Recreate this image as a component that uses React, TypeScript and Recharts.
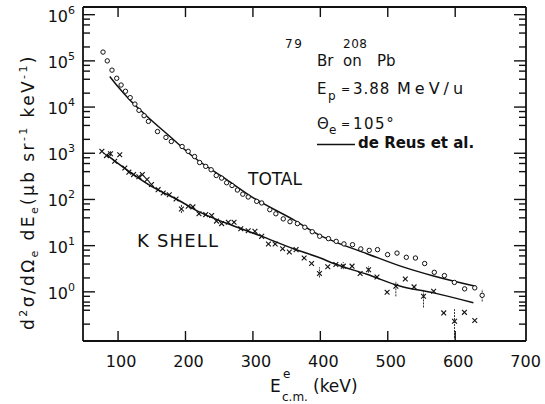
import React from "react";
import { ComposedChart, Scatter, Line, XAxis, YAxis, ErrorBar, ReferenceLine } from "recharts";

// measured TOTAL cross sections (open circles)
const totalEnergy = [
  77.7, 84, 91, 98, 104.5, 111, 118, 125, 131, 138.6, 145, 158.5, 171, 179, 195, 204,
  213.5, 221, 230, 238, 245.6, 253.6, 261, 269, 277, 285, 293, 305.6, 313, 325, 334, 345,
  355, 366, 377, 388, 399, 412, 423.5, 435, 447.7, 460, 472.5, 484.8, 499.7, 513.7, 527.5,
  541, 554.7, 569, 584, 598.8, 614, 629, 640,
];
const totalValue = [
  1.55e5, 1.0e5, 6.3e4, 4.2e4, 3.0e4, 2.2e4, 1.6e4, 1.16e4, 8.5e3, 6.5e3, 4.9e3, 2.95e3,
  2.2e3, 1.8e3, 1.4e3, 1.1e3, 850, 630, 520, 440, 330, 290, 230, 200, 160, 130, 113, 91, 84,
  60, 49, 38, 33, 30, 25, 20, 16, 14.2, 12.4, 10.9, 10.5, 8.5, 7.9, 8.2, 6.4, 6.9, 5.6, 5.4,
  4.1, 2.65, 2.25, 1.6, 1.16, 1.22, 0.84,
];

// measured K SHELL cross sections (crosses)
const kShellEnergy = [
  76, 82.8, 88.7, 95, 102.5, 110, 116, 123, 130.8, 136, 143, 149.6, 159.4, 167, 176, 186,
  194, 204, 211, 220, 230, 238.8, 246, 253.6, 263.5, 272, 282, 293, 303, 313, 323, 333, 344,
  354, 364, 376, 387, 398.7, 411, 423, 434, 447, 459, 471.5, 484, 499, 512, 526, 539, 553,
  568, 583, 599, 613.7, 629,
];
const kShellValue = [
  1100, 890, 980, 670, 930, 480, 390, 345, 310, 345, 270, 210, 163, 138, 126, 102, 62, 71,
  69, 49, 47, 45, 34, 30, 32, 32, 23.3, 21, 20.4, 15.9, 10.9, 10.9, 8.6, 7.3, 8.2, 5.4, 4.1,
  2.5, 3.5, 3.9, 3.6, 3.6, 2.5, 3.0, 2.1, 0.98, 1.32, 1.9, 1.28, 0.8, 1.03, 0.35, 0.23,
  0.36, 0.24,
];

// points drawn with vertical error bars
const kBarEnergy = [88.7, 194, 398.7, 434, 471.5, 512, 553, 599];
const kBarValue = [980, 62, 2.5, 3.6, 3.0, 1.32, 0.8, 0.23];
const kBarLow = [870, 51, 2.05, 3.1, 2.6, 0.8, 0.46, 0.1];
const kBarHigh = [1110, 77, 3.4, 4.4, 3.6, 1.7, 1.12, 0.42];
const totalBarEnergy = [640];
const totalBarValue = [0.84];
const totalBarLow = [0.62];
const totalBarHigh = [1.13];

// de Reus et al. calculations
const totalCurveEnergy = [87.7, 100, 115, 142, 177, 211, 261, 300, 360, 400, 420, 469, 519, 568, 630];
const totalCurveValue = [4.6e4, 2.75e4, 1.56e4, 6.5e3, 2.3e3, 850, 270, 110, 36.5, 16.5, 12.4, 6.7, 3.6, 2.2, 1.32];
const kCurveEnergy = [82.8, 112.5, 149.6, 187, 221, 261, 310.5, 360, 400, 420, 469, 519, 568, 627];
const kCurveValue = [930, 440, 191, 101, 53, 30.5, 16.5, 8.6, 5.4, 4.1, 2.4, 1.32, 0.95, 0.58];

const xTicks = [100, 200, 300, 400, 500, 600, 700];
const topTicks = [100, 200, 300, 400, 500, 600];
const yMajor = [1, 10, 100, 1000, 1e4, 1e5, 1e6];
const yMinor = [
  0.2, 0.4, 0.5, 0.6, 0.8, 2, 4, 6, 8, 20, 40, 60, 80, 200, 400, 600, 800, 2000, 4000, 6000,
  8000, 2e4, 4e4, 6e4, 8e4, 2e5, 4e5, 6e5, 8e5,
];
const yTicks = [...yMinor, ...yMajor].sort((a, b) => a - b);

const font = "'DejaVu Sans', sans-serif";
const ink = "#111";

const yDomain = [0.0863, 1.466e6];
const xDomain = [48, 705];

// plot box (left axis 83 wide, right axis 19, top margin 7, bottom axis 63)
const plotL = 83;
const plotT = 7;
const plotW = 545 - 83 - 19;
const plotH = 404 - 7 - 63;

// frame-tick placement on the top and right edges, same mapping as the axes
const fx = (v: number) => plotL + ((v - xDomain[0]) / (xDomain[1] - xDomain[0])) * plotW;
const fy = (v: number) =>
  plotT +
  ((Math.log10(yDomain[1]) - Math.log10(v)) / (Math.log10(yDomain[1]) - Math.log10(yDomain[0]))) * plotH;

const pts = (xs: number[], ys: number[]) => xs.map((x, i) => ({ x, y: ys[i] }));
const barPts = (xs: number[], ys: number[], lo: number[], hi: number[]) =>
  xs.map((x, i) => ({ x, y: ys[i], err: [ys[i] - lo[i], hi[i] - ys[i]] }));

const isMajor = (v: number) => yMajor.some((m) => Math.abs(m - v) < 1e-6 * m);

const LeftTick = (props: any) => {
  const { x, y, payload } = props;
  const v = payload.value;
  const major = isMajor(v);
  return (
    <g>
      <line x1={x} x2={x + (major ? 12 : 7)} y1={y} y2={y} stroke={ink} strokeWidth={1.4} />
      {major && (
        <text x={x - 15} y={y + 7} textAnchor="end" fontSize={16} fontFamily={font} fill={ink}>
          10
        </text>
      )}
      {major && (
        <text x={x - 15} y={y - 1} fontSize={11} fontFamily={font} fill={ink}>
          {Math.round(Math.log10(v))}
        </text>
      )}
    </g>
  );
};

const BottomTick = (props: any) => {
  const { x, y, payload } = props;
  return (
    <g>
      {payload.value < 700 && <line x1={x} x2={x} y1={y} y2={y - 10} stroke={ink} strokeWidth={1.4} />}
      <text x={x + 3} y={y + 26} textAnchor="middle" fontSize={16} fontFamily={font} fill={ink}>
        {payload.value}
      </text>
    </g>
  );
};

const Circle = (props: any) => (
  <circle cx={props.cx} cy={props.cy} r={2.2} fill="#fff" stroke={ink} strokeWidth={1} />
);

const Cross = (props: any) => {
  const { cx, cy } = props;
  const s = 2.4;
  return (
    <g stroke={ink} strokeWidth={1.1}>
      <line x1={cx - s} y1={cy - s} x2={cx + s} y2={cy + s} />
      <line x1={cx - s} y1={cy + s} x2={cx + s} y2={cy - s} />
    </g>
  );
};

const Nothing = () => <g />;

const axisLine = { stroke: ink, strokeWidth: 1.8 };

export default function App() {
  const plotR = plotL + plotW;
  return (
    <div style={{ position: "absolute", left: 0, top: 0, width: 545, height: 404, background: "#fff" }}>
      <ComposedChart width={545} height={404} margin={{ top: 7, right: 0, bottom: 0, left: 0 }}>
        <XAxis
          xAxisId="b"
          type="number"
          dataKey="x"
          domain={xDomain}
          allowDataOverflow
          ticks={xTicks}
          interval={0}
          height={63}
          tickSize={0}
          tickMargin={0}
          axisLine={axisLine}
          tickLine={false}
          tick={BottomTick}
        />
        <YAxis
          yAxisId="l"
          type="number"
          dataKey="y"
          scale="log"
          domain={yDomain}
          allowDataOverflow
          ticks={yTicks}
          interval={0}
          width={83}
          tickSize={0}
          tickMargin={0}
          axisLine={axisLine}
          tickLine={false}
          tick={LeftTick}
        />
        <YAxis
          yAxisId="r"
          orientation="right"
          type="number"
          dataKey="y"
          scale="log"
          domain={yDomain}
          allowDataOverflow
          width={19}
          axisLine={axisLine}
          tickLine={false}
          tick={false}
        />
        <ReferenceLine xAxisId="b" yAxisId="l" y={yDomain[1]} stroke={ink} strokeWidth={1.8} ifOverflow="visible" />
        <Line
          xAxisId="b"
          yAxisId="l"
          data={pts(totalCurveEnergy, totalCurveValue)}
          dataKey="y"
          type="monotone"
          stroke={ink}
          strokeWidth={1.5}
          dot={false}
          isAnimationActive={false}
        />
        <Line
          xAxisId="b"
          yAxisId="l"
          data={pts(kCurveEnergy, kCurveValue)}
          dataKey="y"
          type="monotone"
          stroke={ink}
          strokeWidth={1.5}
          dot={false}
          isAnimationActive={false}
        />
        <Scatter xAxisId="b" yAxisId="l" data={barPts(kBarEnergy, kBarValue, kBarLow, kBarHigh)} shape={Nothing} isAnimationActive={false}>
          <ErrorBar dataKey="err" direction="y" width={0} stroke="#333" strokeWidth={1} strokeDasharray="2 1" />
        </Scatter>
        <Scatter xAxisId="b" yAxisId="l" data={barPts(totalBarEnergy, totalBarValue, totalBarLow, totalBarHigh)} shape={Nothing} isAnimationActive={false}>
          <ErrorBar dataKey="err" direction="y" width={0} stroke="#333" strokeWidth={1} strokeDasharray="2 1" />
        </Scatter>
        <Scatter xAxisId="b" yAxisId="l" data={pts(totalEnergy, totalValue)} shape={Circle} isAnimationActive={false} />
        <Scatter xAxisId="b" yAxisId="l" data={pts(kShellEnergy, kShellValue)} shape={Cross} isAnimationActive={false} />
      </ComposedChart>
      <svg
        width={545}
        height={404}
        style={{ position: "absolute", left: 0, top: 0, pointerEvents: "none" }}
        fontFamily={font}
        fill={ink}
      >
        {/* inward frame ticks on the top and right edges */}
        <g stroke={ink} strokeWidth={1.4}>
          {topTicks.map((v) => (
            <line key={`t${v}`} x1={fx(v)} x2={fx(v)} y1={plotT} y2={plotT + 10} />
          ))}
          {yTicks.map((v) => (
            <line key={`r${v}`} x1={plotR} x2={plotR - (isMajor(v) ? 12 : 7)} y1={fy(v)} y2={fy(v)} />
          ))}
        </g>

        <text transform="translate(34,192) rotate(-90)" textAnchor="middle" fontSize={17} letterSpacing={2.4}>
          d<tspan dy={-7} fontSize={11}>2</tspan>
          <tspan dy={7}>σ/dΩ</tspan>
          <tspan dy={4} fontSize={11}>e</tspan>
          <tspan dy={-4}> dE</tspan>
          <tspan dy={4} fontSize={11}>e</tspan>
          <tspan dy={-4}>(μb sr</tspan>
          <tspan dy={-7} fontSize={11}>-1</tspan>
          <tspan dy={7}> keV</tspan>
          <tspan dy={-7} fontSize={11}>-1</tspan>
          <tspan dy={7}>)</tspan>
        </text>

        <text x={270} y={392} fontSize={17}>E</text>
        <text x={283} y={378} fontSize={12}>e</text>
        <text x={282} y={401} fontSize={12}>c.m.</text>
        <text x={313} y={392} fontSize={17}>(keV)</text>

        <text x={285} y={48} fontSize={12} letterSpacing={1.5}>79</text>
        <text x={343} y={48} fontSize={12} letterSpacing={0.5}>208</text>
        <text x={317} y={66} fontSize={15}>Br</text>
        <text x={343} y={66} fontSize={15}>on</text>
        <text x={377} y={66} fontSize={15}>Pb</text>

        <text x={317} y={94} fontSize={15}>E</text>
        <text x={328} y={100} fontSize={12}>p</text>
        <text x={341} y={93} fontSize={11}>=</text>
        <text x={353} y={94} fontSize={15} letterSpacing={1}>3.88</text>
        <text x={397} y={94} fontSize={16} letterSpacing={4}>MeV/u</text>

        <text x={317} y={129} fontSize={15}>Θ</text>
        <text x={329} y={134} fontSize={12}>e</text>
        <text x={341} y={128} fontSize={11}>=</text>
        <text x={353} y={129} fontSize={15} letterSpacing={1.5}>105°</text>

        <line x1={317} x2={355} y1={144.5} y2={144.5} stroke={ink} strokeWidth={1.4} />
        <text x={358} y={148} fontSize={15} fontWeight="bold">de Reus et al.</text>

        <text x={248} y={185} fontSize={17}>TOTAL</text>
        <text x={137} y={247} fontSize={18} letterSpacing={1.2}>K SHELL</text>
      </svg>
    </div>
  );
}
